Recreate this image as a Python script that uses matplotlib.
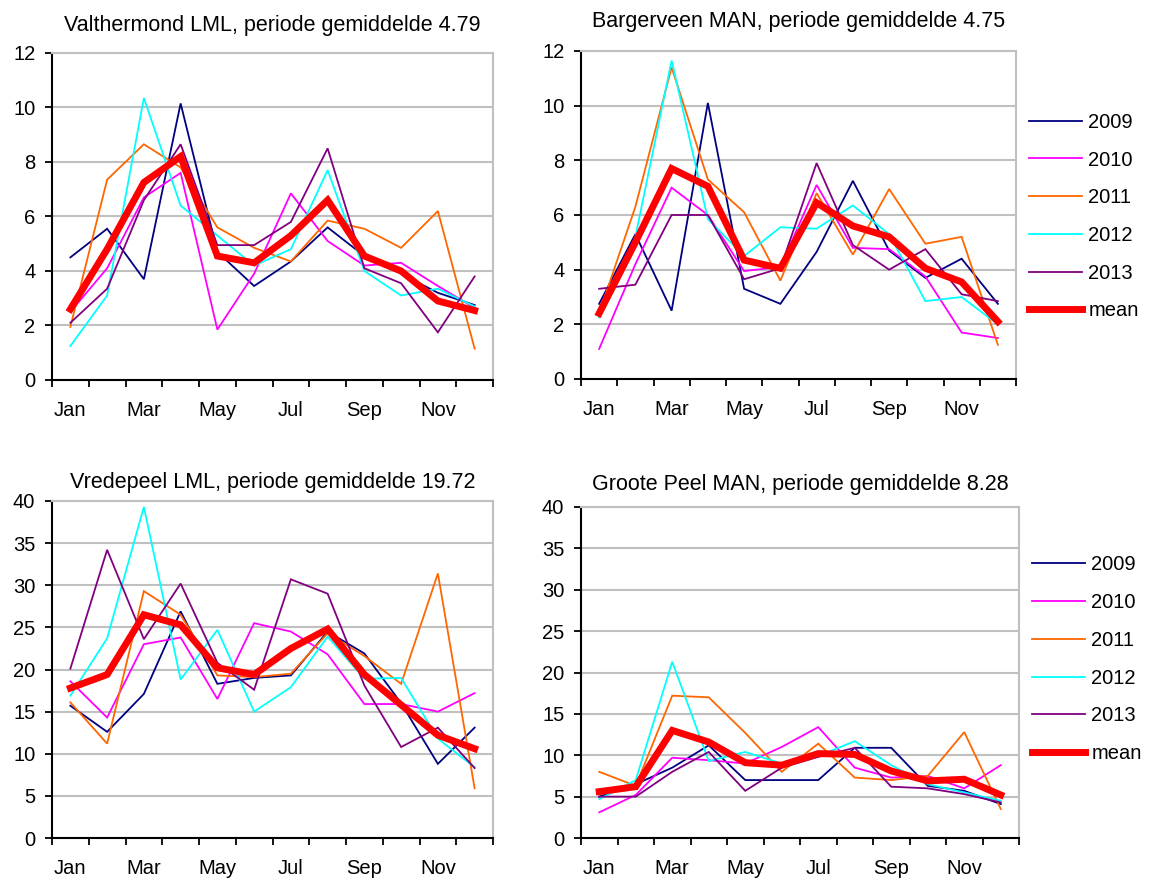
import matplotlib
matplotlib.use("Agg")
import matplotlib.pyplot as plt

matplotlib.rcParams['font.family'] = ['Liberation Sans', 'DejaVu Sans']

maanden = ["Jan", "Feb", "Mar", "Apr", "May", "Jun",
           "Jul", "Aug", "Sep", "Oct", "Nov", "Dec"]
jaren = ["2009", "2010", "2011", "2012", "2013", "mean"]

# Valthermond LML
valthermond = [
    [4.5, 5.55, 3.7, 10.15, 4.7, 3.45, 4.35, 5.6, 4.55, 3.9, 3.2, 2.75],
    [2.5, 4.1, 6.7, 7.6, 1.85, 3.9, 6.85, 5.1, 4.2, 4.3, 3.45, 2.65],
    [1.95, 7.35, 8.65, 7.8, 5.6, 4.85, 4.35, 5.85, 5.55, 4.85, 6.2, 1.15],
    [1.25, 3.1, 10.35, 6.4, 5.3, 4.2, 4.8, 7.7, 4.0, 3.1, 3.35, 2.7],
    [2.1, 3.35, 6.6, 8.65, 4.95, 4.95, 5.8, 8.5, 4.1, 3.55, 1.75, 3.8],
    [2.6, 4.8, 7.25, 8.2, 4.55, 4.3, 5.3, 6.6, 4.55, 4.0, 2.9, 2.55],
]

# Bargerveen MAN
bargerveen = [
    [2.75, 5.3, 2.5, 10.1, 3.3, 2.75, 4.65, 7.25, 4.7, 3.7, 4.4, 2.75],
    [1.1, 4.2, 7.0, 6.0, 3.95, 4.1, 7.1, 4.8, 4.75, 3.75, 1.7, 1.5],
    [2.4, 6.3, 11.4, 7.3, 6.1, 3.6, 6.8, 4.55, 6.95, 4.95, 5.2, 1.25],
    [2.25, 5.2, 11.65, 5.85, 4.5, 5.55, 5.5, 6.35, 5.3, 2.85, 3.0, 2.0],
    [3.3, 3.45, 6.0, 6.0, 3.65, 4.05, 7.9, 4.9, 4.0, 4.75, 3.1, 2.85],
    [2.4, 5.0, 7.7, 7.05, 4.35, 4.05, 6.45, 5.6, 5.2, 4.05, 3.55, 2.1],
]

# Vredepeel LML
vredepeel = [
    [15.7, 12.6, 17.1, 26.9, 18.3, 19.0, 19.3, 24.5, 21.9, 16.0, 8.8, 13.1],
    [18.6, 14.3, 23.0, 23.8, 16.5, 25.5, 24.5, 21.8, 15.9, 15.9, 15.0, 17.2],
    [16.1, 11.2, 29.3, 26.5, 19.3, 19.1, 19.5, 24.3, 21.6, 18.3, 31.4, 5.9],
    [16.9, 23.7, 39.3, 18.8, 24.7, 15.0, 17.9, 23.9, 18.9, 19.0, 11.8, 8.4],
    [20.1, 34.2, 23.6, 30.2, 20.8, 17.6, 30.7, 29.0, 18.1, 10.8, 13.1, 8.3],
    [17.8, 19.4, 26.5, 25.3, 20.2, 19.4, 22.5, 24.8, 19.4, 15.8, 12.2, 10.6],
]

# Groote Peel MAN
grootepeel = [
    [5.0, 6.5, 8.5, 11.2, 7.0, 7.0, 7.0, 10.9, 10.9, 6.3, 5.7, 4.1],
    [3.1, 5.2, 9.7, 9.4, 9.0, 11.0, 13.4, 8.5, 7.3, 7.5, 6.0, 8.8],
    [8.0, 6.3, 17.2, 17.0, 12.7, 8.0, 11.4, 7.3, 7.0, 7.5, 12.8, 3.5],
    [4.7, 7.0, 21.3, 9.3, 10.4, 9.0, 9.9, 11.7, 8.8, 6.5, 5.5, 4.5],
    [5.0, 5.0, 8.0, 10.4, 5.7, 8.5, 9.8, 10.9, 6.2, 6.0, 5.3, 4.3],
    [5.6, 6.2, 13.0, 11.6, 9.1, 8.8, 10.2, 10.1, 8.1, 6.9, 7.1, 5.2],
]

titels = ["Valthermond LML, periode gemiddelde 4.79",
          "Bargerveen MAN, periode gemiddelde 4.75",
          "Vredepeel LML, periode gemiddelde 19.72",
          "Groote Peel MAN, periode gemiddelde 8.28"]

kleuren = ["#000080", "#FF00FF", "#FF6600", "#00FFFF", "#800080", "#FF0000"]

W, H = 1151, 882
fig = plt.figure(figsize=(W / 100, H / 100), dpi=100)


def px_axes(x0, y0, x1, y1):
    # pixel box (links, boven, rechts, onder) -> figure coords
    return fig.add_axes([x0 / W, 1 - y1 / H, (x1 - x0) / W, (y1 - y0) / H])


# (axes, data, ymax, stap, titel, titel-pad, legenda y-anker of None)
panelen = [
    (px_axes(52, 53, 493, 380), valthermond, 12, 2, titels[0], 15.5, None),
    (px_axes(581, 51, 1016, 379), bargerveen, 12, 2, titels[1], 17, 0.495),
    (px_axes(52, 501, 493, 838), vredepeel, 40, 5, titels[2], 9.5, None),
    (px_axes(581, 507, 1019, 838), grootepeel, 40, 5, titels[3], 12, 0.54),
]

x = [i + 0.5 for i in range(12)]

for ax, data, ymax, stap, titel, tpad, leg_y in panelen:
    for reeks, kleur, naam in zip(data, kleuren, jaren):
        lw = 5 if naam == "mean" else 1.3
        ax.plot(x, reeks, color=kleur, lw=lw, label=naam,
                solid_joinstyle="miter", zorder=3 if naam == "mean" else 2)
    ax.set_xlim(0, 12)
    ax.set_ylim(0, ymax)
    ax.set_yticks(range(0, ymax + 1, stap))
    ax.yaxis.grid(True, color="#c0c0c0", lw=1.5)
    ax.set_axisbelow(True)
    ax.set_xticks(range(13))
    ax.set_xticklabels([])
    ax.set_xticks(x[::2], minor=True)
    ax.set_xticklabels(maanden[::2], minor=True)
    ax.tick_params(axis="x", which="minor", length=0, pad=15, labelsize=14.5)
    ax.tick_params(axis="x", which="major", length=5, width=1.3, direction="out")
    ax.tick_params(axis="y", length=5, width=1.3, direction="out", labelsize=14.5, pad=7)
    for s in ["left", "bottom"]:
        ax.spines[s].set_color("black")
        ax.spines[s].set_linewidth(1.5)
    for s in ["top", "right"]:
        ax.spines[s].set_color("#c0c0c0")
        ax.spines[s].set_linewidth(1.5)
    ax.set_title(titel, fontsize=15.5, pad=tpad)
    if leg_y is not None:
        breedte = ax.get_position().width * W
        ax.legend(loc="center left", bbox_to_anchor=(1 + 13 / breedte, leg_y),
                  frameon=False, fontsize=14.5, handlelength=2.65,
                  labelspacing=0.93, handletextpad=0.3, borderpad=0, borderaxespad=0)

fig.savefig("out.png", dpi=100)
